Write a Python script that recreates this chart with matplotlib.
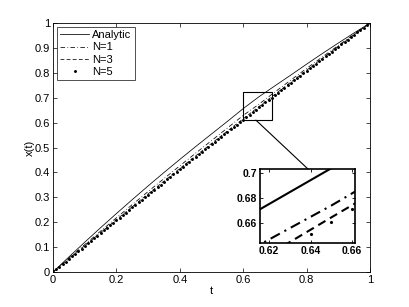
import matplotlib
matplotlib.use("Agg")
import matplotlib.pyplot as plt
from matplotlib.patches import Rectangle, ConnectionPatch

plt.rcParams['font.family'] = ['Liberation Sans', 'DejaVu Sans']

t_line = [0.00, 0.05, 0.10, 0.15, 0.20, 0.25, 0.30, 0.35, 0.40, 0.45, 0.50,
          0.55, 0.60, 0.65, 0.70, 0.75, 0.80, 0.85, 0.90, 0.95, 1.00]
analytic = [0.0, 0.0603, 0.1195, 0.1777, 0.2347, 0.2907, 0.3456, 0.3994, 0.4521, 0.5037, 0.5543,
            0.6047, 0.6562, 0.7041, 0.7476, 0.7907, 0.8347, 0.8777, 0.9195, 0.9603, 1.0]
n1 = [0.0, 0.0552, 0.1099, 0.1640, 0.2176, 0.2706, 0.3231, 0.3750, 0.4264, 0.4772, 0.5275,
      0.5782, 0.6288, 0.6742, 0.7231, 0.7706, 0.8176, 0.8640, 0.9099, 0.9552, 1.0]
n3 = [0.0, 0.0531, 0.1059, 0.1583, 0.2104, 0.2622, 0.3137, 0.3648, 0.4156, 0.4661, 0.5163,
      0.5661, 0.6152, 0.6647, 0.7137, 0.7622, 0.8104, 0.8583, 0.9059, 0.9531, 1.0]

t_dots = [i / 100 for i in range(101)]
n5 = [0.0, 0.0105, 0.0210, 0.0315, 0.0419, 0.0524, 0.0628, 0.0733, 0.0837, 0.0941,
      0.1045, 0.1149, 0.1253, 0.1357, 0.1460, 0.1564, 0.1667, 0.1771, 0.1874, 0.1977,
      0.2080, 0.2183, 0.2286, 0.2389, 0.2491, 0.2594, 0.2696, 0.2799, 0.2901, 0.3003,
      0.3105, 0.3207, 0.3309, 0.3411, 0.3512, 0.3614, 0.3715, 0.3817, 0.3918, 0.4019,
      0.4120, 0.4221, 0.4322, 0.4423, 0.4523, 0.4624, 0.4724, 0.4825, 0.4925, 0.5025,
      0.5125, 0.5225, 0.5325, 0.5425, 0.5524, 0.5624, 0.5723, 0.5823, 0.5922, 0.6021,
      0.6120, 0.6219, 0.6318, 0.6417, 0.6515, 0.6614, 0.6712, 0.6811, 0.6909, 0.7007,
      0.7105, 0.7203, 0.7301, 0.7399, 0.7496, 0.7594, 0.7691, 0.7789, 0.7886, 0.7983,
      0.8080, 0.8177, 0.8274, 0.8371, 0.8467, 0.8564, 0.8660, 0.8757, 0.8853, 0.8949,
      0.9045, 0.9141, 0.9237, 0.9333, 0.9428, 0.9524, 0.9619, 0.9715, 0.9810, 0.9905, 1.0]

labels = ['Analytic', 'N=1', 'N=3', 'N=5']
xticks_main = [0, 0.2, 0.4, 0.6, 0.8, 1]
yticks_main = [0, 0.1, 0.2, 0.3, 0.4, 0.5, 0.6, 0.7, 0.8, 0.9, 1]
xticks_inset = [0.62, 0.64, 0.66]
yticks_inset = [0.66, 0.68, 0.70]

fig = plt.figure(figsize=(4.09, 3.07), dpi=100)
ax = fig.add_axes([53/409, 35/307, 317/409, 249/307])

ax.plot(t_line, analytic, color='k', ls='-', lw=0.55, label=labels[0])
ax.plot(t_line, n1, color='k', ls=(0, (6, 3, 1, 3)), lw=0.55, label=labels[1])
ax.plot(t_line, n3, color='k', ls=(0, (5, 3)), lw=0.55, label=labels[2])
ax.plot(t_dots, n5, 'k.', ms=2.2, label=labels[3])

ax.set_xlim(0, 1)
ax.set_ylim(0, 1)
ax.set_xticks(xticks_main)
ax.set_xticklabels(['0', '0.2', '0.4', '0.6', '0.8', '1'])
ax.set_yticks(yticks_main)
ax.set_yticklabels(['0', '0.1', '0.2', '0.3', '0.4', '0.5', '0.6', '0.7', '0.8', '0.9', '1'])
ax.tick_params(direction='in', length=3, width=0.5, labelsize=8, top=True, right=True, pad=2)
for s in ax.spines.values():
    s.set_linewidth(0.6)
ax.set_xlabel('t', fontsize=8, labelpad=1)
ax.set_ylabel('x(t)', fontsize=8, labelpad=0)

leg = ax.legend(loc='upper left', fontsize=8, frameon=True, fancybox=False,
                edgecolor='k', handlelength=2.6, borderpad=0.3, labelspacing=0.2,
                handletextpad=0.3, borderaxespad=0.35)
leg.get_frame().set_linewidth(0.6)

rect = Rectangle((0.60, 0.61), 0.09, 0.112, fill=False, edgecolor='k', lw=0.8)
ax.add_patch(rect)

axins = fig.add_axes([260/409, 64/307, 95/409, 74/307])
axins.plot(t_line, analytic, 'k-', lw=1.5)
axins.plot(t_line, n1, color='k', ls=(0, (5, 2.5, 1, 2.5)), lw=1.5)
axins.plot(t_line, n3, color='k', ls=(0, (4, 2.5)), lw=1.5)
axins.plot(t_dots, n5, 'k.', ms=2.5)
axins.set_xlim(0.6157, 0.6614)
axins.set_ylim(0.6442, 0.7035)
axins.set_xticks(xticks_inset)
axins.set_xticklabels(['0.62', '0.64', '0.66'])
axins.set_yticks(yticks_inset)
axins.set_yticklabels(['0.66', '0.68', '0.7'])
axins.tick_params(direction='in', length=2, width=0.6, labelsize=7.5, top=True, right=True, pad=2)
for lab in axins.get_xticklabels() + axins.get_yticklabels():
    lab.set_fontweight('bold')
for s in axins.spines.values():
    s.set_linewidth(1.2)

con = ConnectionPatch(xyA=(0.64, 0.61), coordsA=ax.transData,
                      xyB=(0.505, 1.0), coordsB=axins.transAxes,
                      color='k', lw=0.8)
fig.add_artist(con)

fig.savefig('out.png', dpi=100)
